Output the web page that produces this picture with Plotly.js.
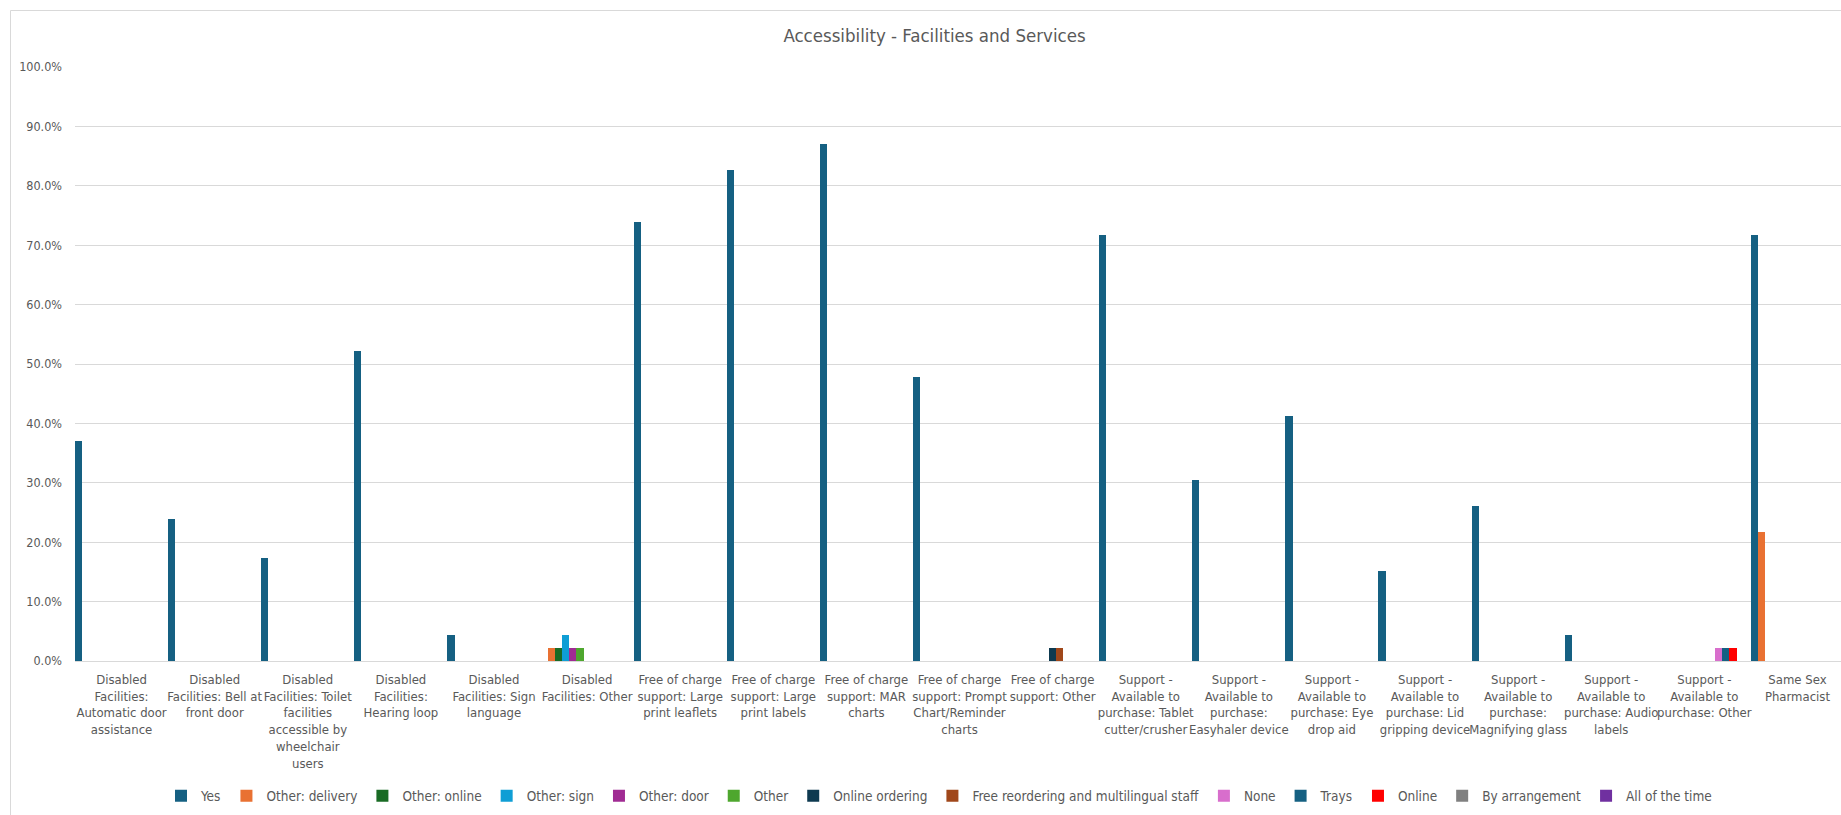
<!DOCTYPE html>
<html>
<head>
<meta charset="utf-8">
<script src="https://cdn.plot.ly/plotly-3.0.1.min.js"></script>
<style>
html,body{margin:0;padding:0;overflow:hidden;background:#fff;}
#chart{width:1844px;height:815px;}
</style>
</head>
<body>
<div id="chart"></div>
<script>
const categories = [
  "Disabled<br>Facilities:<br>Automatic door<br>assistance",
  "Disabled<br>Facilities: Bell at<br>front door",
  "Disabled<br>Facilities: Toilet<br>facilities<br>accessible by<br>wheelchair<br>users",
  "Disabled<br>Facilities:<br>Hearing loop",
  "Disabled<br>Facilities: Sign<br>language",
  "Disabled<br>Facilities: Other",
  "Free of charge<br>support: Large<br>print leaflets",
  "Free of charge<br>support: Large<br>print labels",
  "Free of charge<br>support: MAR<br>charts",
  "Free of charge<br>support: Prompt<br>Chart/Reminder<br>charts",
  "Free of charge<br>support: Other",
  "Support -<br>Available to<br>purchase: Tablet<br>cutter/crusher",
  "Support -<br>Available to<br>purchase:<br>Easyhaler device",
  "Support -<br>Available to<br>purchase: Eye<br>drop aid",
  "Support -<br>Available to<br>purchase: Lid<br>gripping device",
  "Support -<br>Available to<br>purchase:<br>Magnifying glass",
  "Support -<br>Available to<br>purchase: Audio<br>labels",
  "Support -<br>Available to<br>purchase: Other",
  "Same Sex<br>Pharmacist"
];

const seriesNames = ["Yes","Other: delivery","Other: online","Other: sign","Other: door","Other",
  "Online ordering","Free reordering and multilingual staff","None","Trays","Online","By arrangement","All of the time"];

const N = null;
const yes            = [0.370,0.239,0.174,0.522,0.043,N,0.739,0.826,0.870,0.478,N,0.717,0.304,0.413,0.152,0.261,0.043,N,0.717];
const otherDelivery  = [N,N,N,N,N,0.022,N,N,N,N,N,N,N,N,N,N,N,N,0.217];
const otherOnline    = [N,N,N,N,N,0.022,N,N,N,N,N,N,N,N,N,N,N,N,N];
const otherSign      = [N,N,N,N,N,0.043,N,N,N,N,N,N,N,N,N,N,N,N,N];
const otherDoor      = [N,N,N,N,N,0.022,N,N,N,N,N,N,N,N,N,N,N,N,N];
const other          = [N,N,N,N,N,0.022,N,N,N,N,N,N,N,N,N,N,N,N,N];
const onlineOrdering = [N,N,N,N,N,N,N,N,N,N,0.022,N,N,N,N,N,N,N,N];
const freeReordering = [N,N,N,N,N,N,N,N,N,N,0.022,N,N,N,N,N,N,N,N];
const none           = [N,N,N,N,N,N,N,N,N,N,N,N,N,N,N,N,N,0.022,N];
const trays          = [N,N,N,N,N,N,N,N,N,N,N,N,N,N,N,N,N,0.022,N];
const online         = [N,N,N,N,N,N,N,N,N,N,N,N,N,N,N,N,N,0.022,N];
const byArrangement  = [N,N,N,N,N,N,N,N,N,N,N,N,N,N,N,N,N,N,N];
const allOfTheTime   = [N,N,N,N,N,N,N,N,N,N,N,N,N,N,N,N,N,N,N];

const seriesValues = [yes,otherDelivery,otherOnline,otherSign,otherDoor,other,onlineOrdering,
  freeReordering,none,trays,online,byArrangement,allOfTheTime];
const colors = ["#156082","#E97132","#196B24","#0F9ED5","#A02B93","#4EA72E","#0E3A50",
  "#A0471A","#D86ECC","#156082","#FF0000","#808080","#7030A0"];

const FONT = "'Liberation Sans Narrow','DejaVu Sans Condensed','Roboto',sans-serif";
const W = 1844;

const traces = seriesNames.map((name,i)=>({
  type:'bar', name:name, x:categories, y:seriesValues[i],
  marker:{color:colors[i]}, hoverinfo:'skip'
}));

const pl = 75, pr = 0, pt = 67, pb = 154;
const plotW = W - pl - pr, plotH = 815 - pt - pb;
const px2x = p => (p - pl)/plotW;
const py2y = p => (815 - pb - p)/plotH;

const layout = {
  width: W, height: 815,
  margin:{l:pl, r:pr, t:pt, b:pb, pad:0, autoexpand:false},
  paper_bgcolor:'#ffffff', plot_bgcolor:'#ffffff',
  font:{family:FONT, color:'#595959', size:12},
  title:{text:'Accessibility - Facilities and Services', font:{family:FONT, size:18.5, color:'#595959'},
    xref:'container', x:934.5/W, xanchor:'center', yref:'container', y:1-35.5/815, yanchor:'middle'},
  barmode:'group', bargap:0, bargroupgap:0,
  xaxis:{type:'category', range:[-0.5,18.5], showgrid:false, showline:true, linecolor:'#d9d9d9', linewidth:1,
    ticks:'', tickfont:{family:FONT, size:13, color:'#595959'}, tickangle:0, ticklabelstandoff:6,
    automargin:false, fixedrange:true},
  yaxis:{range:[0,1], dtick:0.1, tickformat:'.1%', showgrid:true, gridcolor:'#d9d9d9', gridwidth:1,
    zeroline:false, showline:false, ticks:'', tickfont:{family:FONT, size:12.5, color:'#595959'},
    ticklabelstandoff:12, automargin:false, fixedrange:true},
  showlegend:true,
  legend:{orientation:'h', xref:'paper', x:px2x(939), xanchor:'center', yref:'container', y:1-796/815, yanchor:'middle',
    font:{family:FONT, size:13.5, color:'#595959'}, traceorder:'normal'},
  shapes:[
    {type:'line', xref:'paper', yref:'paper', x0:px2x(10.5), x1:px2x(10.5), y0:py2y(10.5), y1:py2y(830),
      line:{color:'#d9d9d9', width:1}},
    {type:'line', xref:'paper', yref:'paper', x0:px2x(10.5), x1:px2x(1900), y0:py2y(10.5), y1:py2y(10.5),
      line:{color:'#d9d9d9', width:1}}
  ]
};

Plotly.newPlot('chart', traces, layout, {displayModeBar:false, staticPlot:true});
</script>
</body>
</html>
